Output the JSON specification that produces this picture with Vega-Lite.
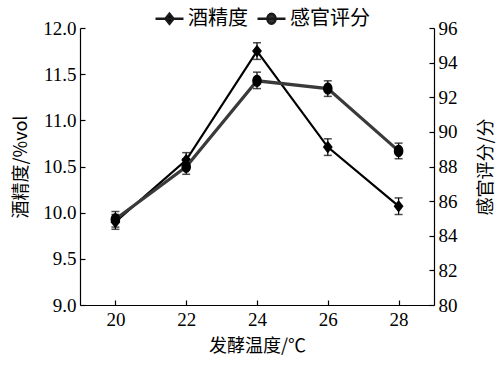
{
  "$schema": "https://vega.github.io/schema/vega-lite/v6.json",
  "width": 354,
  "height": 277,
  "autosize": {"type": "none"},
  "padding": {"left": 80, "top": 28, "right": 67, "bottom": 70},
  "background": "white",
  "config": {
    "view": {"stroke": null},
    "axis": {
      "domainColor": "#000",
      "tickColor": "#000",
      "labelColor": "#000",
      "titleColor": "#000",
      "grid": false,
      "labelFont": "Liberation Serif",
      "labelFontSize": 19,
      "titleFont": "Noto Sans CJK SC",
      "titleFontSize": 18,
      "titleFontWeight": "normal",
      "tickSize": -5,
      "tickWidth": 1.2,
      "domainWidth": 1.2
    }
  },
  "datasets": {
    "alc": [
      {"t": 20, "v": 9.9, "lo": 9.82, "hi": 9.98},
      {"t": 22, "v": 10.57, "lo": 10.49, "hi": 10.65},
      {"t": 24, "v": 11.75, "lo": 11.66, "hi": 11.84},
      {"t": 26, "v": 10.71, "lo": 10.62, "hi": 10.8},
      {"t": 28, "v": 10.07, "lo": 9.98, "hi": 10.16}
    ],
    "score": [
      {"t": 20, "v": 84.95, "lo": 84.5, "hi": 85.4},
      {"t": 22, "v": 87.98, "lo": 87.55, "hi": 88.45},
      {"t": 24, "v": 92.95, "lo": 92.5, "hi": 93.45},
      {"t": 26, "v": 92.5, "lo": 92.05, "hi": 92.95},
      {"t": 28, "v": 88.9, "lo": 88.45, "hi": 89.35}
    ],
    "leg": [
      {"t": 20, "v": 10, "series": "酒精度"},
      {"t": 20, "v": 10, "series": "感官评分"}
    ]
  },
  "encoding": {
    "x": {
      "field": "t",
      "type": "quantitative",
      "scale": {"domain": [19, 29], "nice": false, "zero": false},
      "axis": {
        "values": [20, 22, 24, 26, 28],
        "title": "发酵温度/℃",
        "labelPadding": 10,
        "titlePadding": 8
      }
    }
  },
  "layer": [
    {
      "encoding": {
        "y": {
          "field": "v",
          "type": "quantitative",
          "scale": {"domain": [9, 12], "nice": false, "zero": false},
          "axis": {
            "values": [9, 9.5, 10, 10.5, 11, 11.5, 12],
            "format": ".1f",
            "title": "酒精度/%vol",
            "labelPadding": 9,
            "titlePadding": 12
          }
        }
      },
      "layer": [
        {
          "data": {"name": "alc"},
          "mark": {"type": "line", "color": "#000", "strokeWidth": 2.2},
          "encoding": {}
        },
        {
          "data": {"name": "alc"},
          "mark": {"type": "rule", "color": "#000", "strokeWidth": 1.2},
          "encoding": {"y": {"field": "lo", "type": "quantitative"}, "y2": {"field": "hi"}}
        },
        {
          "data": {"name": "alc"},
          "mark": {"type": "tick", "color": "#000", "orient": "horizontal", "size": 8, "thickness": 1.5},
          "encoding": {"y": {"field": "lo", "type": "quantitative"}}
        },
        {
          "data": {"name": "alc"},
          "mark": {"type": "tick", "color": "#000", "orient": "horizontal", "size": 8, "thickness": 1.5},
          "encoding": {"y": {"field": "hi", "type": "quantitative"}}
        },
        {
          "data": {"name": "alc"},
          "mark": {"type": "point", "filled": true, "opacity": 1, "color": "#000", "size": 160, "shape": "M0,-1L0.78,0L0,1L-0.78,0Z"},
          "encoding": {}
        },
        {
          "data": {"name": "leg"},
          "mark": {"type": "point", "filled": true, "opacity": 0},
          "encoding": {
            "color": {
              "field": "series",
              "type": "nominal",
              "scale": {"domain": ["酒精度", "感官评分"], "range": ["#000", "#333"]},
              "legend": {
                "title": null,
                "orient": "none",
                "direction": "horizontal",
                "legendX": 74,
                "legendY": -25,
                "labelFont": "Noto Sans CJK SC",
                "labelFontSize": 20,
                "labelColor": "#000",
                "symbolOpacity": 1,
                "symbolSize": 784,
                "symbolStrokeWidth": 2.5,
                "symbolFillColor": "#000",
                "symbolStrokeColor": "#1a1a1a",
                "labelOffset": 3,
                "columnPadding": 4
              }
            },
            "shape": {
              "field": "series",
              "type": "nominal",
              "scale": {
                "domain": ["酒精度", "感官评分"],
                "range": [
                  "M-1,0H1M0,-0.36L0.29,0L0,0.36L-0.29,0Z",
                  "M-1,0H1M-0.29,0A0.29,0.36 0 1,0 0.29,0A0.29,0.36 0 1,0 -0.29,0Z"
                ]
              },
              "legend": null
            }
          }
        }
      ]
    },
    {
      "data": {"name": "score"},
      "encoding": {
        "y": {
          "field": "v",
          "type": "quantitative",
          "scale": {"domain": [80, 96], "nice": false, "zero": false},
          "axis": {
            "orient": "right",
            "values": [80, 82, 84, 86, 88, 90, 92, 94, 96],
            "title": "感官评分/分",
            "titleAngle": 270,
            "labelPadding": 9,
            "titlePadding": 38
          }
        }
      },
      "layer": [
        {
          "mark": {"type": "line", "color": "#3a3a3a", "strokeWidth": 3.2},
          "encoding": {}
        },
        {
          "mark": {"type": "rule", "color": "#000", "strokeWidth": 1.2},
          "encoding": {"y": {"field": "lo", "type": "quantitative"}, "y2": {"field": "hi"}}
        },
        {
          "mark": {"type": "tick", "color": "#000", "orient": "horizontal", "size": 8, "thickness": 1.5},
          "encoding": {"y": {"field": "lo", "type": "quantitative"}}
        },
        {
          "mark": {"type": "tick", "color": "#000", "orient": "horizontal", "size": 8, "thickness": 1.5},
          "encoding": {"y": {"field": "hi", "type": "quantitative"}}
        },
        {
          "mark": {"type": "point", "filled": true, "opacity": 1, "color": "#000", "size": 150, "shape": "M-0.78,0A0.78,1 0 1,0 0.78,0A0.78,1 0 1,0 -0.78,0Z"},
          "encoding": {}
        }
      ]
    }
  ],
  "resolve": {"scale": {"y": "independent"}}
}
